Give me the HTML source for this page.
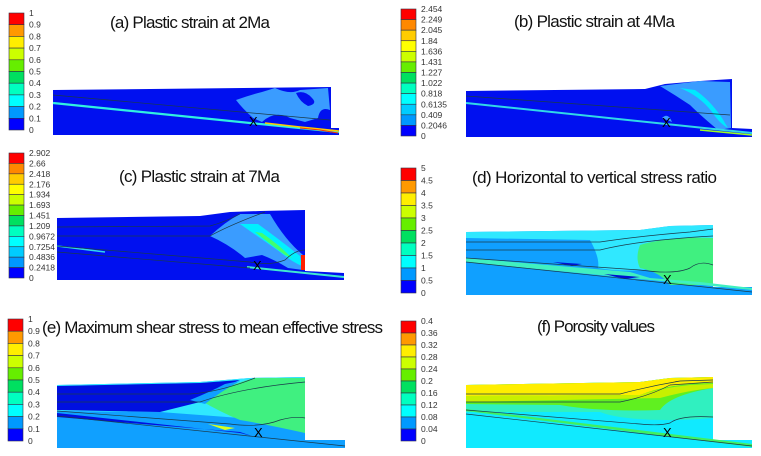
<!DOCTYPE html>
<html><head><meta charset="utf-8">
<style>
html,body{margin:0;padding:0;background:#fff;}
svg{display:block;}
text{font-family:"Liberation Sans",Arial,sans-serif;}
.t{font-size:17px;fill:#111;}
.lb{font-size:8.5px;fill:#333;}
.hz{fill:none;stroke:#1a3a4a;stroke-width:0.7;}
</style></head>
<body>
<svg id="fig" width="761" height="456" viewBox="0 0 761 456">
<!-- Panel a -->
<g>
<text class="t" x="110" y="28" textLength="160">(a) Plastic strain at 2Ma</text>
<polygon points="53,90 331,87 331,128 339,128 339,135 53,135" fill="#0010f0"/>
<path d="M236,100 Q250,95 262,92 L275,88 Q290,95 300,90 L328,88 L330,110 Q320,106 318,118 L305,122 L290,118 Q275,110 262,122 L253,118 Q242,108 236,100Z" fill="#3a9cff"/>
<path d="M296,93 Q305,90 312,98 Q318,104 308,106 Q300,102 296,93Z" fill="#0010f0"/>
<line x1="53" y1="103" x2="339" y2="132" stroke="#30f0e0" stroke-width="2.2"/>
<path d="M265,123 L300,127 L320,129 L339,131" stroke="#ffcc00" stroke-width="1.6" fill="none"/>
<path d="M300,128 L320,130 L338,133" stroke="#ff3000" stroke-width="1" fill="none"/>
<path class="hz" d="M53,95 L330,120"/>
<text x="249" y="126" font-size="13">X</text>
</g>
<!-- Panel b -->
<g>
<text class="t" x="514" y="27" textLength="161">(b) Plastic strain at 4Ma</text>
<polygon points="466,91 645,89 665,84 700,81 732,79 732,128 752,129 752,137 466,137" fill="#0010f0"/>
<path d="M660,86 L700,81 L730,82 L731,128 L718,130 Q700,115 690,105 Q675,95 660,86Z" fill="#3a9cff"/>
<path d="M680,88 Q700,96 712,112 Q720,124 728,128 L722,118 Q710,100 695,90Z" fill="#00e8ff"/>
<path d="M662,118 Q668,112 672,122Z" fill="#3a9cff"/>
<line x1="466" y1="103" x2="752" y2="133" stroke="#30d8e8" stroke-width="2"/>
<path d="M700,130 L752,135" stroke="#a0ff20" stroke-width="1.4"/>
<path class="hz" d="M466,96 L730,115"/>
<text x="662" y="127" font-size="13">X</text>
</g>
<!-- Panel c -->
<g>
<text class="t" x="119" y="182" textLength="161">(c) Plastic strain at 7Ma</text>
<polygon points="57,218 200,216 230,212 260,211 305,210 305,271 344,273 344,280 57,280" fill="#0010f0"/>
<path d="M210,236 Q225,222 240,214 L270,214 Q285,240 303,255 L303,270 L288,268 Q275,260 262,255 L245,258 Q230,245 210,236Z" fill="#3a9cff"/>
<path d="M240,224 Q260,238 280,252 Q292,262 302,266 L300,256 Q280,240 258,224Z" fill="#00f0ff"/>
<path d="M255,232 Q270,244 285,255 L292,258 Q278,244 262,233Z" fill="#40ff70"/>
<rect x="301" y="255" width="4" height="15" fill="#ff2000"/>
<line x1="57" y1="246" x2="105" y2="252" stroke="#30d8e8" stroke-width="1.6"/>
<line x1="247" y1="267" x2="344" y2="277" stroke="#40e8d0" stroke-width="2"/>
<path class="hz" d="M57,227 L210,226 Q225,222 240,214 M57,236 L210,236 Q230,225 265,212 M57,246 L250,262 Q270,266 285,260 Q295,250 305,250 M57,252 L250,268"/>
<text x="253" y="270" font-size="13">X</text>
</g>
<!-- Panel d -->
<g>
<text class="t" x="472" y="183" textLength="245">(d) Horizontal to vertical stress ratio</text>
<polygon points="466,232 640,230 670,226 713,225 713,287 752,287 752,295 466,295" fill="#10a0ff"/>
<path d="M466,232 L640,230 L670,226 L713,225 L713,240 Q660,235 620,244 L590,240 L466,238Z" fill="#30e8ff"/>
<path d="M590,240 Q620,244 660,236 L713,240 L713,270 Q690,268 670,268 L640,270 Q620,272 598,268 Q600,258 590,240Z" fill="#30e8ff"/>
<path d="M640,245 Q670,236 713,238 L713,285 L670,285 Q660,272 640,268 Q635,258 640,245Z" fill="#40f080"/>
<path d="M466,258 L630,272 L650,278 L700,282 L752,288 L752,290 L466,262Z" fill="#40f0c0"/>
<path d="M553,262 L582,264 L572,266Z M604,274 L640,277 L625,279Z" fill="#0010d0"/>
<path class="hz" d="M466,242 L600,242 Q640,236 690,232 L713,229 M466,250 L600,250 Q640,240 713,236 M466,258 L640,270 Q675,275 690,268 Q700,260 713,265 M466,262 L752,292"/>
<text x="663" y="284" font-size="13">X</text>
</g>
<!-- Panel e -->
<g>
<text class="t" x="42" y="333" textLength="341">(e) Maximum shear stress to mean effective stress</text>
<polygon points="57,385 200,382 250,378 305,377 305,440 345,440 345,448 57,448" fill="#10a0ff"/>
<path d="M57,385 L200,382 L250,378 L305,377 L305,433 Q270,420 240,418 L160,412 L57,411Z" fill="#30e8ff"/>
<path d="M200,400 Q230,384 255,378 L305,378 L305,433 Q270,425 240,420 Q220,412 200,400Z" fill="#40f080"/>
<path d="M57,386 L200,383 L240,380 Q215,390 200,402 L160,412 L57,410Z" fill="#0010e0"/>
<path d="M190,400 Q210,392 225,384 L240,381 Q220,392 205,404Z" fill="#10a0ff"/>
<path d="M57,413 L240,433 L252,436 L240,432 L57,417Z" fill="#0010e0"/>
<path d="M208,424 L235,428 L225,430Z" fill="#d8ff20"/>
<path class="hz" d="M57,394 L190,394 Q220,392 255,378 M57,402 L200,402 Q240,388 305,382 M57,411 L230,424 Q260,428 280,420 Q295,416 305,418 M57,416 L345,446"/>
<text x="254" y="437" font-size="13">X</text>
</g>
<!-- Panel f -->
<g>
<text class="t" x="537" y="332" textLength="118">(f) Porosity values</text>
<polygon points="466,385 640,382 670,378 713,377 713,440 752,440 752,448 466,448" fill="#10eaff"/>
<path d="M466,385 L640,382 L670,378 L713,377 L713,418 Q690,420 670,420 Q620,420 600,412 L466,412Z" fill="#30f0c0"/>
<path d="M466,385 L640,382 L670,378 L713,377 L713,388 Q670,395 660,410 Q600,412 560,405 L466,404Z" fill="#60f020"/>
<path d="M466,385 L640,382 L670,378 L713,377 L713,383 Q670,383 640,395 L466,396Z" fill="#ffee00"/>
<path d="M466,396 L640,395 Q660,388 690,385 L713,384 L713,388 Q690,390 660,398 L466,402Z" fill="#c8f000"/>
<path d="M466,411 L752,447 L752,444 L466,409Z" fill="#40f060"/>
<path class="hz" d="M466,394 L620,394 Q650,386 680,381 L713,380 M466,402 L620,402 Q650,396 670,385 L713,382 M466,410 L640,424 Q660,426 670,423 Q680,415 713,417 M466,414 L752,446"/>
<text x="663" y="437" font-size="13">X</text>
</g>
<g id="legends"></g>
</svg>
<script>
const labelsA = ["1","0.9","0.8","0.7","0.6","0.5","0.4","0.3","0.2","0.1","0"];
const labelsB = ["2.454","2.249","2.045","1.84","1.636","1.431","1.227","1.022","0.818","0.6135","0.409","0.2046","0"];
const labelsC = ["2.902","2.66","2.418","2.176","1.934","1.693","1.451","1.209","0.9672","0.7254","0.4836","0.2418","0"];
const labelsD = ["5","4.5","4","3.5","3","2.5","2","1.5","1","0.5","0"];
const labelsE = ["1","0.9","0.8","0.7","0.6","0.5","0.4","0.3","0.2","0.1","0"];
const labelsF = ["0.4","0.36","0.32","0.28","0.24","0.2","0.16","0.12","0.08","0.04","0"];
const colors10 = ["#ff0000","#ff9900","#ffee00","#ccff00","#66ee00","#00e060","#00ffc0","#00ffff","#0099ff","#0000ff"];
const colors12 = ["#ff0000","#ff8800","#ffcc00","#ffff00","#ccff00","#66ee00","#00e060","#00ffc0","#00ffff","#00ccff","#0099ff","#0000ff"];
const ns="http://www.w3.org/2000/svg";
const g=document.getElementById('legends');
function legend(name,labels,cols,x,y0,y1){
  const n=labels.length-1, h=(y1-y0)/n;
  for(let i=0;i<n;i++){
    const r=document.createElementNS(ns,'rect');
    r.setAttribute('x',x);r.setAttribute('y',y0+i*h);r.setAttribute('width',15);r.setAttribute('height',h);
    r.setAttribute('fill',cols[i]);r.setAttribute('stroke','#334');r.setAttribute('stroke-width','0.6');
    
    
    g.appendChild(r);
  }
  for(let i=0;i<=n;i++){
    const t=document.createElementNS(ns,'text');
    t.setAttribute('x',x+20);t.setAttribute('y',y0+i*h+3);t.setAttribute('class','lb');
    t.textContent=labels[i];
    
    
    g.appendChild(t);
  }
}
legend('a',labelsA,colors10,9,13,130);
legend('b',labelsB,colors12,401,9,136);
legend('c',labelsC,colors12,9,153,278);
legend('d',labelsD,colors10,401,168,293);
legend('e',labelsE,colors10,8,319,441);
legend('f',labelsF,colors10,401,321,441);
</script>
</body></html>
